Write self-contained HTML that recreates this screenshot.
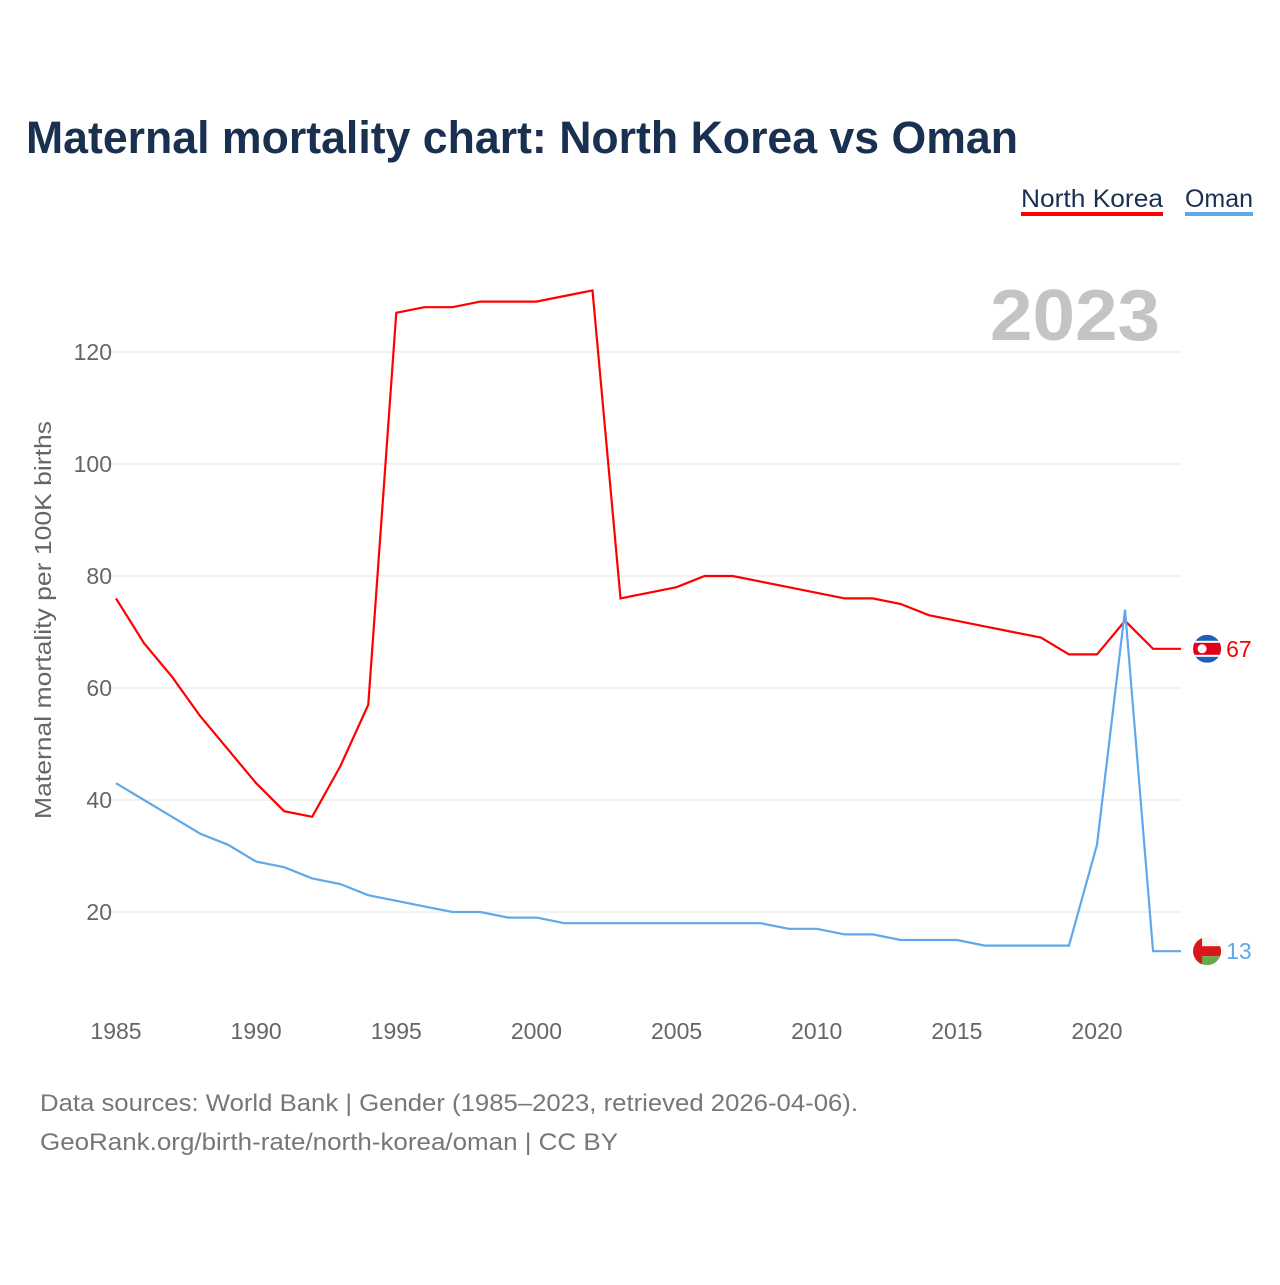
<!DOCTYPE html>
<html><head><meta charset="utf-8"><style>
body{margin:0;background:#fff;font-family:"Liberation Sans",sans-serif}
</style></head><body>
<svg width="1280" height="1280" xmlns="http://www.w3.org/2000/svg" id="chart" style="font-family:'Liberation Sans',sans-serif">
<text x="26" y="153" font-size="45" font-weight="bold" fill="#1a3050" textLength="992" lengthAdjust="spacingAndGlyphs">Maternal mortality chart: North Korea vs Oman</text>
<g><text x="1021" y="207" font-size="25" fill="#1a3050" textLength="142" lengthAdjust="spacingAndGlyphs">North Korea</text><rect x="1021" y="212" width="142" height="4" fill="#ff0000"/></g>
<g><text x="1185" y="207" font-size="25" fill="#1a3050" textLength="68" lengthAdjust="spacingAndGlyphs">Oman</text><rect x="1185" y="212" width="68" height="4" fill="#5fa8ea"/></g>
<text x="1160" y="340" font-size="72" font-weight="bold" fill="#c4c4c4" text-anchor="end" textLength="170" lengthAdjust="spacingAndGlyphs">2023</text>
<text transform="translate(51,620) rotate(-90)" font-size="23" fill="#666" text-anchor="middle" textLength="398" lengthAdjust="spacingAndGlyphs">Maternal mortality per 100K births</text>
<g id="grid"></g><g id="xt"></g><g id="lines"></g>
<text x="40" y="1111" font-size="24" fill="#777" textLength="818" lengthAdjust="spacingAndGlyphs">Data sources: World Bank | Gender (1985–2023, retrieved 2026-04-06).</text>
<text x="40" y="1150" font-size="24" fill="#777" textLength="578" lengthAdjust="spacingAndGlyphs">GeoRank.org/birth-rate/north-korea/oman | CC BY</text>
</svg>
<script>
const years=[];for(let y=1985;y<=2023;y++)years.push(y);
const northKorea=[76,68,62,55,49,43,38,37,46,57,127,128,128,129,129,129,130,131,76,77,78,80,80,79,78,77,76,76,75,73,72,71,70,69,66,66,72,67,67];
const oman=[43,40,37,34,32,29,28,26,25,23,22,21,20,20,19,19,18,18,18,18,18,18,18,18,17,17,16,16,15,15,15,14,14,14,14,32,74,13,13];
const yTicks=[20,40,60,80,100,120];
const xTicks=[1985,1990,1995,2000,2005,2010,2015,2020];
const X=y=>116+(y-1985)*(981/35), Y=v=>1024-v*5.6;
const ns="http://www.w3.org/2000/svg";
function el(t,a,p){const e=document.createElementNS(ns,t);for(const k in a)e.setAttribute(k,a[k]);document.getElementById(p).appendChild(e);return e;}
yTicks.forEach(v=>{
 const l=el('line',{x1:100,x2:1181,y1:Y(v),y2:Y(v),stroke:'#e6e6e6','stroke-width':1},'grid');
 
 
 const t=el('text',{x:112,y:Y(v)+8,'font-size':23,fill:'#666','text-anchor':'end'},'grid');t.textContent=v;
 
 
});
xTicks.forEach(v=>{
 const t=el('text',{x:X(v),y:1039,'font-size':23,fill:'#666','text-anchor':'middle'},'xt');t.textContent=v;
 
 
});
function series(d,c,name,flag){
 const p=el('polyline',{points:d.map((v,i)=>X(years[i])+','+Y(v)).join(' '),fill:'none',stroke:c,'stroke-width':2.2},'lines');
 
 
 const last=d[d.length-1],lx=X(2023),ly=Y(last);
 const g=el('g',{},'lines');
 
 
 g.innerHTML=flag(lx+26,ly);
 const t=el('text',{x:lx+45,y:ly+8,'font-size':23,fill:c},'lines');t.textContent=last;
 
 
}
series(northKorea,'#ff0000','north-korea',(cx,cy)=>`<clipPath id="c1"><circle cx="${cx}" cy="${cy}" r="14"/></clipPath><g clip-path="url(#c1)"><rect x="${cx-14}" y="${cy-14}" width="28" height="28" fill="#1c5fb5"/><rect x="${cx-14}" y="${cy-8}" width="28" height="16" fill="#fff"/><rect x="${cx-14}" y="${cy-6}" width="28" height="12" fill="#e2001a"/><circle cx="${cx-5}" cy="${cy}" r="4.5" fill="#fff"/></g>`);
series(oman,'#5fa8ea','oman',(cx,cy)=>`<clipPath id="c2"><circle cx="${cx}" cy="${cy}" r="14"/></clipPath><g clip-path="url(#c2)"><rect x="${cx-14}" y="${cy-14}" width="28" height="28" fill="#f4f4f4"/><rect x="${cx-14}" y="${cy-5}" width="28" height="10" fill="#db161b"/><rect x="${cx-14}" y="${cy+5}" width="28" height="9" fill="#6aa84f"/><rect x="${cx-14}" y="${cy-14}" width="9" height="28" fill="#db161b"/></g>`);
</script>
</body></html>
